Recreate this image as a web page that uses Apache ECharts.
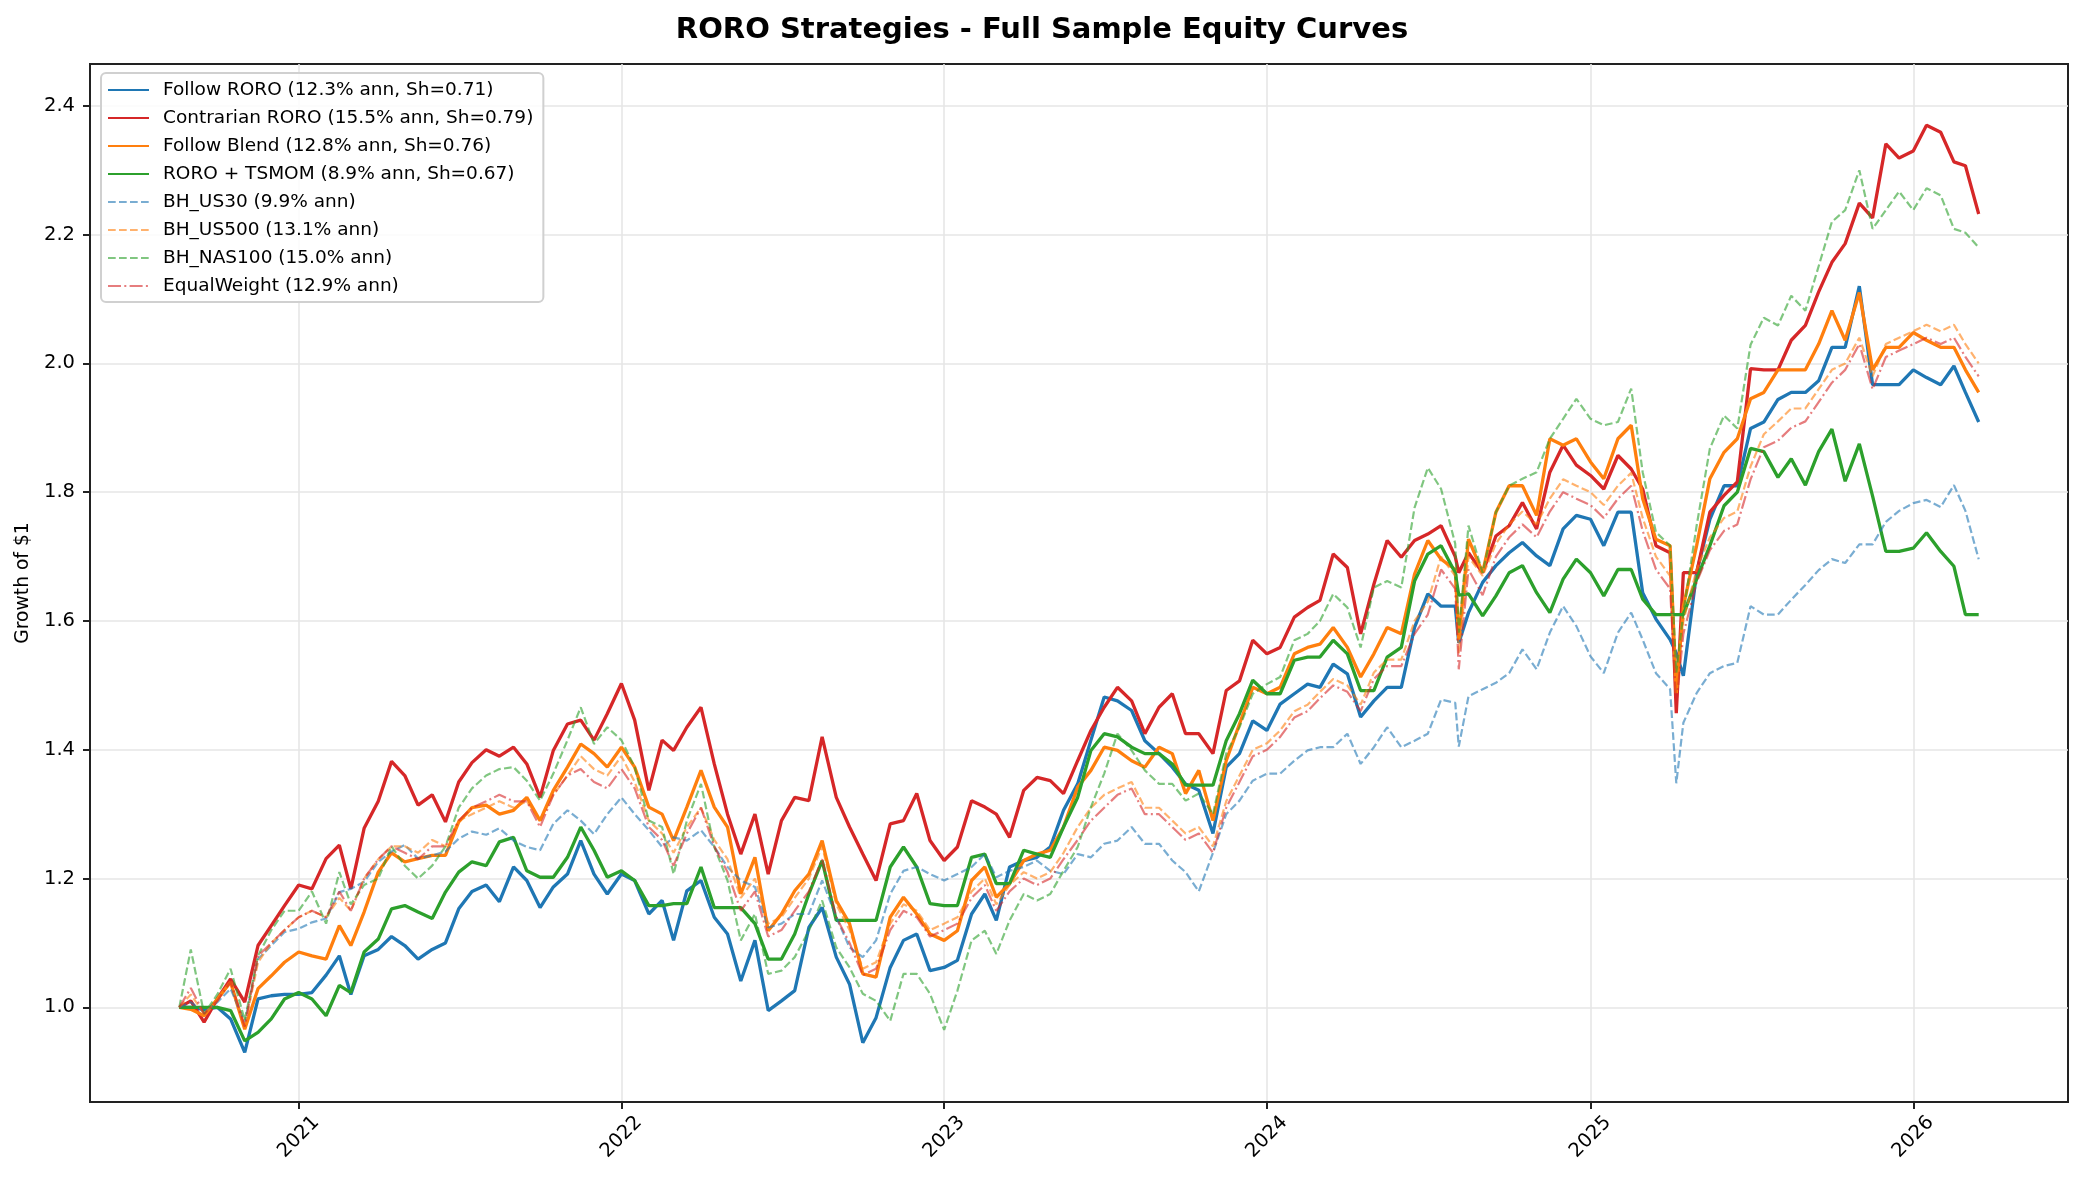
<!DOCTYPE html>
<html>
<head>
<meta charset="utf-8">
<title>RORO Strategies - Full Sample Equity Curves</title>
<script src="https://cdn.jsdelivr.net/npm/echarts@6/dist/echarts.min.js"></script>
<style>
  html, body { margin: 0; padding: 0; background: #fff; }
  #main { width: 2084px; height: 1183px; }
</style>
</head>
<body>
<div id="main"></div>
<script>
// sample dates (roughly twice a month, plus the two crash days)
const dates = [
  '2020-08-19','2020-09-01','2020-09-16','2020-10-01','2020-10-16','2020-11-01','2020-11-16','2020-12-01','2020-12-16',
  '2021-01-01','2021-01-16','2021-02-01','2021-02-16','2021-03-01','2021-03-16','2021-04-01','2021-04-16','2021-05-01','2021-05-16','2021-06-01','2021-06-16',
  '2021-07-01','2021-07-16','2021-08-01','2021-08-16','2021-09-01','2021-09-16','2021-10-01','2021-10-16','2021-11-01','2021-11-16','2021-12-01','2021-12-16',
  '2022-01-01','2022-01-16','2022-02-01','2022-02-16','2022-03-01','2022-03-16','2022-04-01','2022-04-16','2022-05-01','2022-05-16','2022-06-01','2022-06-16',
  '2022-07-01','2022-07-16','2022-08-01','2022-08-16','2022-09-01','2022-09-16','2022-10-01','2022-10-16','2022-11-01','2022-11-16','2022-12-01','2022-12-16',
  '2023-01-01','2023-01-16','2023-02-01','2023-02-16','2023-03-01','2023-03-16','2023-04-01','2023-04-16','2023-05-01','2023-05-16','2023-06-01','2023-06-16',
  '2023-07-01','2023-07-16','2023-08-01','2023-08-16','2023-09-01','2023-09-16','2023-10-01','2023-10-16','2023-11-01','2023-11-16','2023-12-01','2023-12-16',
  '2024-01-01','2024-01-16','2024-02-01','2024-02-16','2024-03-01','2024-03-16','2024-04-01','2024-04-16','2024-05-01','2024-05-16','2024-06-01','2024-06-16',
  '2024-07-01','2024-07-16','2024-08-01','2024-08-05','2024-08-16','2024-09-01','2024-09-16','2024-10-01','2024-10-16','2024-11-01','2024-11-16','2024-12-01','2024-12-16',
  '2025-01-01','2025-01-16','2025-02-01','2025-02-16','2025-03-01','2025-03-16','2025-04-01','2025-04-08','2025-04-16','2025-05-01','2025-05-16','2025-06-01','2025-06-16',
  '2025-07-01','2025-07-16','2025-08-01','2025-08-16','2025-09-01','2025-09-16','2025-10-01','2025-10-16','2025-11-01','2025-11-16','2025-12-01','2025-12-16',
  '2026-01-01','2026-01-16','2026-02-01','2026-02-16','2026-03-01','2026-03-16'
];

const followRoro = [
  1.00, 1.00, 0.997, 1.00, 0.982, 0.93, 1.013, 1.018, 1.02, 1.02, 1.023, 1.05, 1.08, 1.02, 1.08, 1.09, 1.11, 1.096, 1.075, 1.09, 1.10, 1.153, 1.18, 1.19, 1.164,
  1.218, 1.197, 1.155, 1.187, 1.207, 1.259, 1.207, 1.176, 1.207, 1.197, 1.145, 1.166, 1.104, 1.181, 1.197, 1.14, 1.114, 1.041, 1.104, 0.995, 1.01, 1.026,
  1.124, 1.155, 1.078, 1.036, 0.945, 0.984, 1.062, 1.104, 1.114, 1.057, 1.062, 1.073, 1.145, 1.176, 1.135, 1.218, 1.228, 1.233, 1.249, 1.306, 1.347, 1.415, 1.482,
  1.476, 1.461, 1.414, 1.394, 1.373, 1.347, 1.337, 1.27, 1.373, 1.394, 1.445, 1.43, 1.471, 1.487, 1.502, 1.497, 1.533, 1.518, 1.451, 1.476, 1.497, 1.497, 1.59, 1.642,
  1.623, 1.623, 1.566, 1.613, 1.66, 1.686, 1.706, 1.722, 1.701, 1.686, 1.743, 1.764, 1.758, 1.717, 1.769, 1.769, 1.644, 1.603, 1.571, 1.55, 1.515, 1.675, 1.758, 1.81, 1.81, 1.899,
  1.909, 1.944, 1.955, 1.955, 1.973, 2.025, 2.025, 2.12, 1.967, 1.967, 1.967, 1.99, 1.978, 1.967, 1.996, 1.955, 1.909
];
const contrarianRoro = [
  1.00, 1.01, 0.977, 1.013, 1.044, 1.008, 1.096, 1.127, 1.158, 1.19, 1.184, 1.231, 1.252, 1.184, 1.278, 1.32, 1.382, 1.36, 1.314, 1.33, 1.288, 1.35, 1.38, 1.40, 1.39,
  1.404, 1.378, 1.326, 1.399, 1.44, 1.446, 1.415, 1.456, 1.503, 1.446, 1.337, 1.415, 1.399, 1.435, 1.466, 1.378, 1.30, 1.238, 1.30, 1.207, 1.29, 1.326,
  1.321, 1.42, 1.326, 1.28, 1.238, 1.197, 1.285, 1.29, 1.332, 1.259, 1.228, 1.249, 1.321, 1.311, 1.30, 1.264, 1.337, 1.357, 1.352, 1.332, 1.383, 1.43, 1.466,
  1.497, 1.476, 1.425, 1.466, 1.487, 1.425, 1.425, 1.394, 1.492, 1.507, 1.57, 1.549, 1.559, 1.606, 1.621, 1.632, 1.704, 1.683, 1.58, 1.657, 1.725, 1.699, 1.725, 1.735,
  1.748, 1.70, 1.675, 1.706, 1.675, 1.732, 1.748, 1.784, 1.743, 1.831, 1.873, 1.842, 1.826, 1.805, 1.857, 1.836, 1.805, 1.717, 1.706, 1.457, 1.675, 1.675, 1.769, 1.795, 1.816, 1.992,
  1.99, 1.99, 2.036, 2.059, 2.111, 2.157, 2.186, 2.249, 2.226, 2.341, 2.319, 2.33, 2.37, 2.359, 2.313, 2.307, 2.232
];
const followBlend = [
  1.00, 0.997, 0.987, 1.013, 1.039, 0.966, 1.029, 1.049, 1.07, 1.086, 1.08, 1.075, 1.127, 1.096, 1.148, 1.21, 1.24, 1.226, 1.231, 1.236, 1.236, 1.288, 1.31, 1.314, 1.30,
  1.306, 1.326, 1.29, 1.337, 1.373, 1.409, 1.394, 1.373, 1.404, 1.373, 1.311, 1.30, 1.259, 1.311, 1.368, 1.311, 1.28, 1.176, 1.233, 1.119, 1.145, 1.181,
  1.207, 1.259, 1.166, 1.13, 1.052, 1.047, 1.14, 1.171, 1.145, 1.114, 1.104, 1.119, 1.197, 1.218, 1.171, 1.192, 1.228, 1.238, 1.244, 1.28, 1.342, 1.368, 1.404,
  1.399, 1.383, 1.373, 1.404, 1.394, 1.332, 1.368, 1.29, 1.383, 1.44, 1.497, 1.487, 1.497, 1.549, 1.559, 1.564, 1.59, 1.559, 1.513, 1.549, 1.59, 1.58, 1.673, 1.725,
  1.696, 1.68, 1.571, 1.727, 1.675, 1.769, 1.81, 1.81, 1.764, 1.883, 1.873, 1.883, 1.847, 1.821, 1.883, 1.904, 1.79, 1.727, 1.717, 1.488, 1.623, 1.717, 1.821, 1.862, 1.883, 1.945,
  1.955, 1.99, 1.99, 1.99, 2.03, 2.082, 2.036, 2.11, 1.99, 2.025, 2.025, 2.048, 2.036, 2.025, 2.025, 1.99, 1.955
];
const roroTsmom = [
  1.00, 1.00, 1.00, 1.00, 0.995, 0.948, 0.961, 0.982, 1.013, 1.023, 1.013, 0.987, 1.034, 1.023, 1.086, 1.106, 1.153, 1.158, 1.148, 1.138, 1.179, 1.21, 1.226, 1.22, 1.257,
  1.264, 1.212, 1.202, 1.202, 1.233, 1.28, 1.244, 1.202, 1.212, 1.197, 1.158, 1.158, 1.161, 1.161, 1.218, 1.155, 1.155, 1.155, 1.13, 1.075, 1.075, 1.114,
  1.176, 1.228, 1.135, 1.135, 1.135, 1.135, 1.218, 1.249, 1.218, 1.161, 1.158, 1.158, 1.233, 1.238, 1.192, 1.192, 1.244, 1.238, 1.233, 1.28, 1.326, 1.399, 1.425,
  1.42, 1.404, 1.394, 1.394, 1.378, 1.345, 1.345, 1.345, 1.414, 1.456, 1.508, 1.487, 1.487, 1.539, 1.544, 1.544, 1.57, 1.549, 1.492, 1.492, 1.544, 1.559, 1.662, 1.704,
  1.717, 1.675, 1.64, 1.642, 1.608, 1.639, 1.675, 1.686, 1.644, 1.613, 1.665, 1.696, 1.675, 1.639, 1.68, 1.68, 1.634, 1.61, 1.61, 1.61, 1.61, 1.665, 1.717, 1.779, 1.80, 1.868,
  1.863, 1.823, 1.852, 1.811, 1.863, 1.898, 1.817, 1.875, 1.794, 1.708, 1.708, 1.713, 1.737, 1.708, 1.685, 1.61, 1.61
];
const bhUs30 = [
  1.00, 1.008, 0.992, 1.008, 1.029, 0.977, 1.075, 1.096, 1.117, 1.122, 1.132, 1.138, 1.179, 1.184, 1.195, 1.226, 1.242, 1.252, 1.231, 1.236, 1.242, 1.262, 1.273, 1.268, 1.278,
  1.259, 1.249, 1.244, 1.285, 1.306, 1.29, 1.269, 1.30, 1.326, 1.30, 1.275, 1.249, 1.264, 1.259, 1.275, 1.249, 1.218, 1.197, 1.187, 1.124, 1.13, 1.145,
  1.145, 1.197, 1.14, 1.093, 1.078, 1.104, 1.176, 1.212, 1.218, 1.207, 1.197, 1.207, 1.218, 1.238, 1.202, 1.212, 1.218, 1.228, 1.212, 1.207, 1.238, 1.233, 1.254,
  1.259, 1.28, 1.254, 1.254, 1.228, 1.21, 1.18, 1.24, 1.30, 1.321, 1.352, 1.363, 1.363, 1.383, 1.399, 1.404, 1.404, 1.425, 1.378, 1.404, 1.435, 1.404, 1.414, 1.425,
  1.478, 1.473, 1.405, 1.483, 1.494, 1.504, 1.519, 1.556, 1.525, 1.582, 1.623, 1.592, 1.545, 1.519, 1.582, 1.613, 1.571, 1.519, 1.494, 1.348, 1.442, 1.488, 1.519, 1.53, 1.535, 1.623,
  1.61, 1.61, 1.633, 1.656, 1.679, 1.696, 1.69, 1.719, 1.719, 1.754, 1.771, 1.783, 1.788, 1.777, 1.811, 1.771, 1.696
];
const bhUs500 = [
  1.00, 1.02, 0.99, 1.01, 1.04, 0.97, 1.07, 1.10, 1.12, 1.14, 1.15, 1.14, 1.17, 1.15, 1.20, 1.23, 1.25, 1.25, 1.24, 1.26, 1.25, 1.29, 1.30, 1.31, 1.32,
  1.31, 1.32, 1.29, 1.33, 1.36, 1.39, 1.37, 1.36, 1.39, 1.35, 1.29, 1.27, 1.24, 1.28, 1.31, 1.26, 1.23, 1.17, 1.20, 1.13, 1.14, 1.17,
  1.20, 1.25, 1.16, 1.12, 1.06, 1.07, 1.13, 1.16, 1.15, 1.12, 1.13, 1.14, 1.18, 1.20, 1.16, 1.19, 1.21, 1.20, 1.21, 1.24, 1.28, 1.31, 1.33,
  1.34, 1.35, 1.31, 1.31, 1.29, 1.27, 1.28, 1.25, 1.32, 1.36, 1.40, 1.41, 1.43, 1.46, 1.47, 1.49, 1.51, 1.50, 1.47, 1.52, 1.54, 1.54, 1.60, 1.63,
  1.70, 1.67, 1.55, 1.70, 1.67, 1.72, 1.75, 1.77, 1.75, 1.79, 1.82, 1.81, 1.80, 1.78, 1.81, 1.83, 1.76, 1.70, 1.67, 1.50, 1.60, 1.68, 1.73, 1.76, 1.77, 1.84,
  1.89, 1.91, 1.93, 1.93, 1.96, 1.99, 2.00, 2.04, 1.98, 2.03, 2.04, 2.05, 2.06, 2.05, 2.06, 2.03, 2.00
];
const bhNas100 = [
  1.00, 1.09, 0.99, 1.02, 1.06, 0.98, 1.08, 1.12, 1.15, 1.15, 1.18, 1.13, 1.21, 1.16, 1.19, 1.20, 1.25, 1.22, 1.20, 1.22, 1.25, 1.31, 1.34, 1.36, 1.37,
  1.373, 1.352, 1.321, 1.363, 1.415, 1.466, 1.409, 1.435, 1.415, 1.373, 1.29, 1.28, 1.207, 1.29, 1.347, 1.249, 1.197, 1.104, 1.145, 1.052, 1.057, 1.078,
  1.119, 1.166, 1.093, 1.062, 1.021, 1.01, 0.979, 1.052, 1.052, 1.021, 0.965, 1.026, 1.104, 1.119, 1.083, 1.135, 1.176, 1.166, 1.176, 1.212, 1.249, 1.311, 1.363,
  1.425, 1.399, 1.368, 1.347, 1.347, 1.321, 1.332, 1.30, 1.394, 1.435, 1.487, 1.502, 1.513, 1.57, 1.58, 1.60, 1.642, 1.621, 1.559, 1.652, 1.662, 1.652, 1.776, 1.838,
  1.805, 1.72, 1.582, 1.748, 1.675, 1.769, 1.81, 1.821, 1.831, 1.883, 1.914, 1.945, 1.914, 1.904, 1.909, 1.961, 1.831, 1.738, 1.717, 1.52, 1.613, 1.748, 1.868, 1.919, 1.899, 2.029,
  2.071, 2.059, 2.105, 2.082, 2.151, 2.22, 2.238, 2.30, 2.209, 2.238, 2.267, 2.238, 2.272, 2.261, 2.209, 2.203, 2.18
];
const equalWeight = [
  1.00, 1.03, 0.99, 1.01, 1.04, 0.97, 1.08, 1.10, 1.12, 1.14, 1.15, 1.14, 1.18, 1.15, 1.20, 1.23, 1.25, 1.24, 1.23, 1.25, 1.25, 1.29, 1.31, 1.32, 1.33,
  1.32, 1.32, 1.28, 1.33, 1.36, 1.37, 1.35, 1.34, 1.37, 1.34, 1.28, 1.26, 1.22, 1.27, 1.31, 1.25, 1.21, 1.15, 1.18, 1.11, 1.12, 1.15,
  1.18, 1.23, 1.14, 1.10, 1.05, 1.06, 1.12, 1.15, 1.14, 1.11, 1.12, 1.13, 1.17, 1.19, 1.15, 1.18, 1.20, 1.19, 1.20, 1.23, 1.26, 1.29, 1.31,
  1.33, 1.34, 1.30, 1.30, 1.28, 1.26, 1.27, 1.24, 1.31, 1.35, 1.39, 1.40, 1.42, 1.45, 1.46, 1.48, 1.50, 1.49, 1.46, 1.51, 1.53, 1.53, 1.58, 1.61,
  1.68, 1.65, 1.525, 1.68, 1.64, 1.70, 1.73, 1.75, 1.73, 1.77, 1.80, 1.79, 1.78, 1.76, 1.79, 1.81, 1.74, 1.68, 1.65, 1.47, 1.58, 1.66, 1.71, 1.74, 1.75, 1.82,
  1.87, 1.88, 1.90, 1.91, 1.94, 1.97, 1.99, 2.03, 1.96, 2.01, 2.02, 2.03, 2.04, 2.03, 2.04, 2.01, 1.98
];

const seriesNames = [
  'Follow RORO (12.3% ann, Sh=0.71)',
  'Contrarian RORO (15.5% ann, Sh=0.79)',
  'Follow Blend (12.8% ann, Sh=0.76)',
  'RORO + TSMOM (8.9% ann, Sh=0.67)',
  'BH_US30 (9.9% ann)',
  'BH_US500 (13.1% ann)',
  'BH_NAS100 (15.0% ann)',
  'EqualWeight (12.9% ann)'
];
const yTicks = [1.0, 1.2, 1.4, 1.6, 1.8, 2.0, 2.2, 2.4];
const xTickYears = [2021, 2022, 2023, 2024, 2025, 2026];
const xMin = '2020-05-10';
const xMax = '2026-06-25';
const yMin = 0.853;
const yMax = 2.465;

const FONT = 'DejaVu Sans';

// dates -> UTC timestamps on a plain value axis
function ts(s) {
  const p = s.split('-').map(Number);
  return Date.UTC(p[0], p[1] - 1, p[2]);
}
const yearTicks = xTickYears.map(y => Date.UTC(y, 0, 1));

function pairs(vals) {
  return dates.map((d, i) => [ts(d), vals[i]]);
}

function strategyLine(name, color, vals) {
  return {
    name: name, type: 'line', data: pairs(vals),
    symbol: 'none', smooth: false,
    lineStyle: { color: color, width: 3.3 },
    itemStyle: { color: color },
    emphasis: { disabled: true }
  };
}

function benchLine(name, color, vals, dash) {
  return {
    name: name, type: 'line', data: pairs(vals),
    symbol: 'none', smooth: false,
    lineStyle: { color: color, width: 2.2, type: dash },
    itemStyle: { color: color },
    emphasis: { disabled: true }
  };
}

const chart = echarts.init(document.getElementById('main'));

chart.setOption({
  animation: false,
  backgroundColor: '#ffffff',
  title: {
    text: 'RORO Strategies - Full Sample Equity Curves',
    left: 'center',
    top: 11,
    textStyle: { fontFamily: FONT, fontSize: 29, fontWeight: 'bold', color: '#000' }
  },
  grid: {
    left: 90, right: 16, top: 64, bottom: 81,
    show: true, borderColor: '#222', borderWidth: 2
  },
  legend: {
    orient: 'vertical',
    left: 101, top: 73,
    padding: [7, 10, 6, 6],
    itemWidth: 41, itemHeight: 14, itemGap: 8,
    itemStyle: { opacity: 0 },
    backgroundColor: 'rgba(255,255,255,0.85)',
    borderColor: '#d0d0d0', borderWidth: 2, borderRadius: 5,
    textStyle: { fontFamily: FONT, fontSize: 18.5, color: '#000', lineHeight: 20, padding: [0, 0, 0, 9] },
    data: seriesNames
  },
  xAxis: {
    type: 'value',
    min: ts(xMin), max: ts(xMax),
    axisLine: { show: true, onZero: false, lineStyle: { color: '#222', width: 2 } },
    axisTick: { show: true, customValues: yearTicks, length: 7, lineStyle: { color: '#222', width: 2 } },
    axisLabel: {
      customValues: yearTicks,
      formatter: v => String(new Date(v).getUTCFullYear()),
      rotate: 45, align: 'center', verticalAlign: 'middle', margin: 35,
      fontFamily: FONT, fontSize: 19.5, color: '#000'
    },
    splitLine: { show: true, lineStyle: { color: '#e6e6e6', width: 1.6 } }
  },
  yAxis: {
    type: 'value',
    min: yMin, max: yMax,
    name: 'Growth of $1', nameLocation: 'middle', nameGap: 56,
    nameTextStyle: { fontFamily: FONT, fontSize: 18.7, color: '#000' },
    axisLine: { show: true, onZero: false, lineStyle: { color: '#222', width: 2 } },
    axisTick: { show: true, customValues: yTicks, length: 7, lineStyle: { color: '#222', width: 2 } },
    axisLabel: {
      customValues: yTicks,
      formatter: v => Number(v).toFixed(1),
      margin: 15,
      fontFamily: FONT, fontSize: 19.5, color: '#000'
    },
    splitLine: { show: true, lineStyle: { color: '#e6e6e6', width: 1.6 } }
  },
  series: [
    strategyLine(seriesNames[0], '#1f77b4', followRoro),
    strategyLine(seriesNames[1], '#d62728', contrarianRoro),
    strategyLine(seriesNames[2], '#ff7f0e', followBlend),
    strategyLine(seriesNames[3], '#2ca02c', roroTsmom),
    benchLine(seriesNames[4], 'rgba(31,119,180,0.6)', bhUs30, [7.7, 3.3]),
    benchLine(seriesNames[5], 'rgba(255,127,14,0.6)', bhUs500, [7.7, 3.3]),
    benchLine(seriesNames[6], 'rgba(44,160,44,0.6)', bhNas100, [7.7, 3.3]),
    benchLine(seriesNames[7], 'rgba(214,39,40,0.6)', equalWeight, [13, 3.3, 2, 3.3])
  ]
});
</script>
</body>
</html>
